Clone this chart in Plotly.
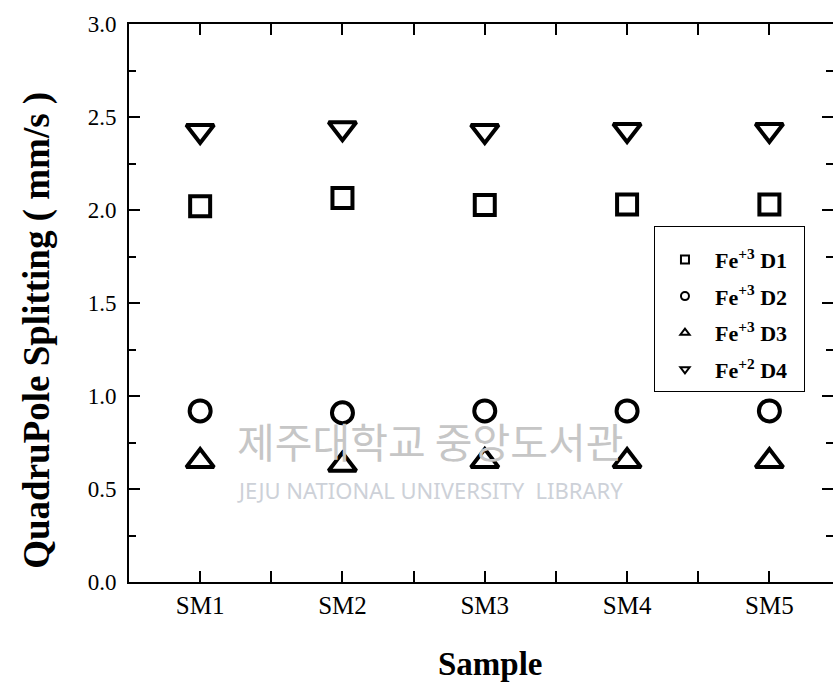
import plotly.graph_objects as go

# Samples and quadrupole splitting values (mm/s)
samples = ["SM1", "SM2", "SM3", "SM4", "SM5"]
d1_fe3 = [2.02, 2.065, 2.027, 2.03, 2.03]
d2_fe3 = [0.92, 0.91, 0.92, 0.92, 0.92]
d3_fe3 = [0.65, 0.63, 0.65, 0.65, 0.65]
d4_fe2 = [2.425, 2.44, 2.425, 2.43, 2.43]

series_names = [
    "Fe<sup>+3</sup> D1",
    "Fe<sup>+3</sup> D2",
    "Fe<sup>+3</sup> D3",
    "Fe<sup>+2</sup> D4",
]
series_values = [d1_fe3, d2_fe3, d3_fe3, d4_fe2]
symbols = ["square-open", "circle-open", "triangle-up-open", "triangle-down-open"]
marker_sizes = [20, 21, 24, 24]

y_ticks = [0.0, 0.5, 1.0, 1.5, 2.0, 2.5, 3.0]
y_minor = [0.25, 0.75, 1.25, 1.75, 2.25, 2.75]

FONT = "Liberation Serif"
x_pos = list(range(len(samples)))

fig = go.Figure()

for name, vals, sym, sz in zip(series_names, series_values, symbols, marker_sizes):
    # data markers
    fig.add_trace(go.Scatter(
        x=x_pos, y=vals, mode="markers", name=name, showlegend=False,
        marker=dict(symbol=sym, size=sz, color="black",
                    line=dict(color="black", width=4)),
    ))
    # small legend entry
    fig.add_trace(go.Scatter(
        x=[None], y=[None], mode="markers",
        name="<b>" + name + "</b>\u00a0\u00a0",
        legendgroup=name, yaxis="y2",
        marker=dict(symbol=sym, size=8, color="black",
                    line=dict(color="black", width=2)),
    ))

tick_style = dict(ticks="inside", ticklen=11, tickwidth=2, tickcolor="black")
minor_style = dict(ticks="inside", ticklen=7, tickwidth=2, tickcolor="black")

fig.update_layout(
    xaxis=dict(
        range=[-0.5, 4.447],
        tickmode="array", tickvals=x_pos, ticktext=samples,
        minor=dict(tickvals=[0.5, 1.5, 2.5, 3.5], **minor_style),
        showgrid=False, zeroline=False,
        showline=True, linecolor="black", linewidth=2, mirror="allticks",
        tickfont=dict(family=FONT, size=25, color="black"),
        **tick_style,
    ),
    yaxis=dict(
        range=[0, 3.0],
        tickmode="array", tickvals=y_ticks, ticktext=[f"{v:.1f}" for v in y_ticks],
        minor=dict(tickvals=y_minor, **minor_style),
        showgrid=False, zeroline=False,
        showline=True, linecolor="black", linewidth=2, mirror=False,
        ticklabelstandoff=6,
        tickfont=dict(family=FONT, size=23, color="black"),
        **tick_style,
    ),
    # right-hand tick marks (frame edge)
    yaxis2=dict(
        overlaying="y", side="right", range=[0, 3.0],
        tickmode="array", tickvals=y_ticks, showticklabels=False,
        minor=dict(tickvals=y_minor, **minor_style),
        showgrid=False, zeroline=False, showline=False,
        **tick_style,
    ),
)

# axis titles
fig.add_annotation(
    text="<b>QuadruPole Splitting ( mm/s )</b>", textangle=-90,
    xref="paper", yref="paper", x=-0.1307, y=0.452, xanchor="center", yanchor="middle",
    showarrow=False, font=dict(family=FONT, size=37, color="black"),
)
fig.add_annotation(
    text="<b>Sample</b>",
    xref="paper", yref="paper", x=0.513, y=-0.147, xanchor="center", yanchor="middle",
    showarrow=False, font=dict(family=FONT, size=33, color="black"),
)

# library watermark
fig.add_annotation(
    text="제주대학교 중앙도서관",
    xref="paper", yref="paper", x=0.4276, y=0.2545, xanchor="center", yanchor="middle",
    showarrow=False, font=dict(family="Noto Sans CJK KR", size=41, color="#c6c6c6"),
)
fig.add_annotation(
    text="JEJU NATIONAL UNIVERSITY  LIBRARY",
    xref="paper", yref="paper", x=0.4276, y=0.165, xanchor="center", yanchor="middle",
    showarrow=False, font=dict(family="Noto Sans", size=22, color="#cdd1d8"),
)

fig.update_layout(
    width=833, height=685,
    margin=dict(l=129, r=0, t=24, b=103),
    plot_bgcolor="white", paper_bgcolor="white",
    showlegend=True,
    legend=dict(
        x=0.7457, y=0.638, xanchor="left", yanchor="top",
        bgcolor="white", bordercolor="black", borderwidth=1,
        font=dict(family=FONT, size=22, color="black"),
        title=dict(text="\u00a0", font=dict(family=FONT, size=9)),
        tracegroupgap=5, itemwidth=50,
    ),
)

fig.write_html("out.html")
